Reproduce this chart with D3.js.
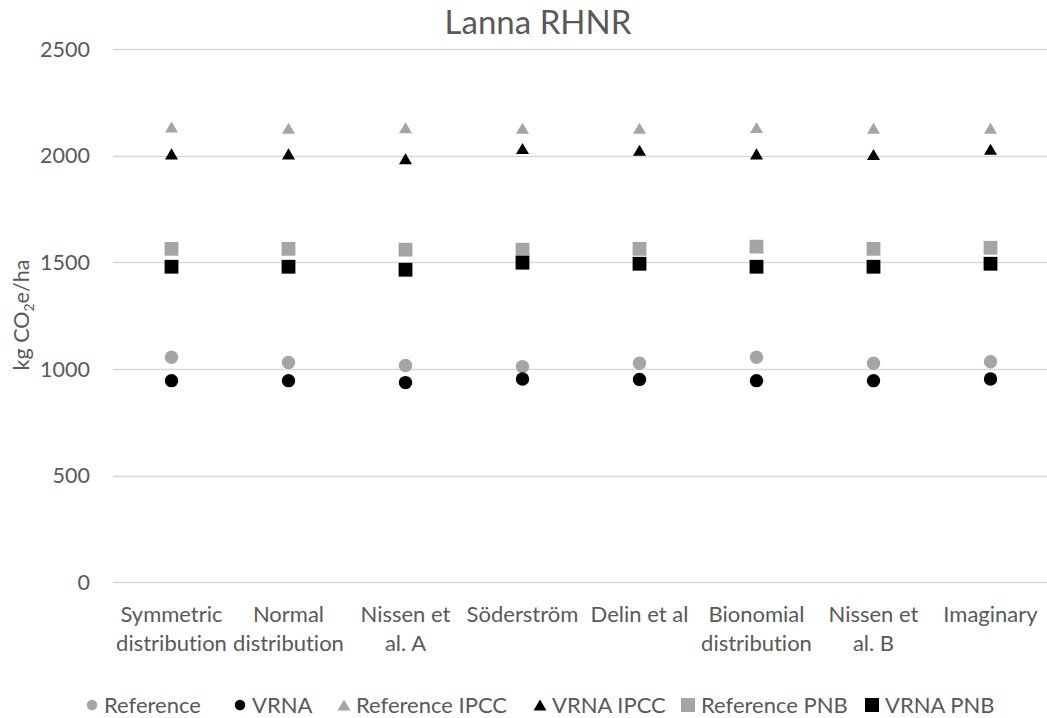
<!DOCTYPE html>
<html><head><meta charset="utf-8">
<script src="https://cdn.jsdelivr.net/npm/d3@7"></script>
<style>body{margin:0;background:#fff}svg{display:block}text{font-family:Lato,"Open Sans",sans-serif;fill:#595959;font-variant-ligatures:none}</style>
</head><body>
<script>
const categories = [["Symmetric","distribution"],["Normal","distribution"],["Nissen et","al. A"],["Söderström"],["Delin et al"],["Bionomial","distribution"],["Nissen et","al. B"],["Imaginary"]];
const reference = [1055, 1030, 1016, 1011, 1027, 1055, 1027, 1034];
const vrna      = [945, 945, 936, 953, 951, 945, 945, 953];
const refIPCC   = [2134, 2128, 2130, 2128, 2128, 2132, 2128, 2128];
const vrnaIPCC  = [2008, 2008, 1985, 2033, 2025, 2008, 2005, 2030];
const refPNB    = [1563, 1563, 1559, 1559, 1563, 1573, 1563, 1568];
const vrnaPNB   = [1479, 1479, 1465, 1498, 1493, 1479, 1479, 1493];
const yTicks = [0, 500, 1000, 1500, 2000, 2500];
const seriesNames = ["Reference","VRNA","Reference IPCC","VRNA IPCC","Reference PNB","VRNA PNB"];

const GRAY="#a5a5a5", BLACK="#000";
const series = [
  {name:seriesNames[0], values:reference, shape:"circle", color:GRAY},
  {name:seriesNames[1], values:vrna, shape:"circle", color:BLACK},
  {name:seriesNames[2], values:refIPCC, shape:"triangle", color:GRAY},
  {name:seriesNames[3], values:vrnaIPCC, shape:"triangle", color:BLACK},
  {name:seriesNames[4], values:refPNB, shape:"square", color:GRAY},
  {name:seriesNames[5], values:vrnaPNB, shape:"square", color:BLACK}
];

const W=1047,H=718;
const svg=d3.select("body").append("svg").attr("width",W).attr("height",H);
const x=d3.scaleBand().domain(d3.range(categories.length)).range([113,1049]);
const y=d3.scaleLinear().domain([0,2500]).range([582.3,48.9]);

function marker(sel, shape, s){
  if(shape==="circle") return sel.append("circle").attr("r",s/2);
  if(shape==="square") return sel.append("rect").attr("x",-s/2).attr("y",-s/2).attr("width",s).attr("height",s);
  const h=s*0.85;
  return sel.append("path").attr("d",`M0,${-h/2}L${s/2},${h/2}L${-s/2},${h/2}Z`);
}

// gridlines
svg.append("g").selectAll("line").data(yTicks).join("line")
  .attr("x1",113).attr("x2",W).attr("y1",d=>Math.round(y(d))+0.5).attr("y2",d=>Math.round(y(d))+0.5)
  .attr("stroke","#d9d9d9").attr("stroke-width",1.3);

// y tick labels
svg.append("g").selectAll("text").data(yTicks).join("text")
  .attr("x",90).attr("y",d=>y(d)).attr("dy","0.36em").attr("text-anchor","end")
  .attr("font-size",21.5).text(d=>d);

// category labels
const cl=svg.append("g").selectAll("text").data(categories).join("text")
  .attr("text-anchor","middle").attr("font-size",22)
  .attr("x",(d,i)=>x(i)+x.bandwidth()/2).attr("y",622);
cl.selectAll("tspan").data(d=>d).join("tspan")
  .attr("x",function(){return this.parentNode.getAttribute("x");})
  .attr("dy",(d,i)=>i===0?0:29).text(d=>d);

// title
svg.append("text").attr("x",538).attr("y",34).attr("text-anchor","middle").attr("font-size",33).text("Lanna RHNR");

// y axis title
const yt=svg.append("text").attr("transform","translate(29,315) rotate(-90)").attr("text-anchor","middle").attr("font-size",21.5);
yt.append("tspan").text("kg CO");
yt.append("tspan").attr("font-size",14).attr("dy",5).text("2");
yt.append("tspan").attr("dy",-5).text("e/ha");

// markers
series.forEach(s=>{
  const g=svg.append("g").attr("fill",s.color);
  s.values.forEach((v,i)=>{
    const m=g.append("g").attr("transform",`translate(${x(i)+x.bandwidth()/2},${y(v)})`);
    marker(m,s.shape,s.shape==="circle"?13.4:(s.shape==="square"?13.8:13));
  });
});

// legend
const legX=[92,240,344,540,688,872];
const leg=svg.append("g");
series.forEach((s,i)=>{
  const g=leg.append("g").attr("transform",`translate(${legX[i]},705)`).attr("fill",s.color);
  marker(g,s.shape,s.shape==="circle"?10.5:(s.shape==="square"?14:13));
  leg.append("text").attr("x",legX[i]+(s.shape==="square"?13:12)).attr("y",705).attr("dy","0.36em")
    .attr("font-size",22).text(s.name);
});
</script>
</body></html>
